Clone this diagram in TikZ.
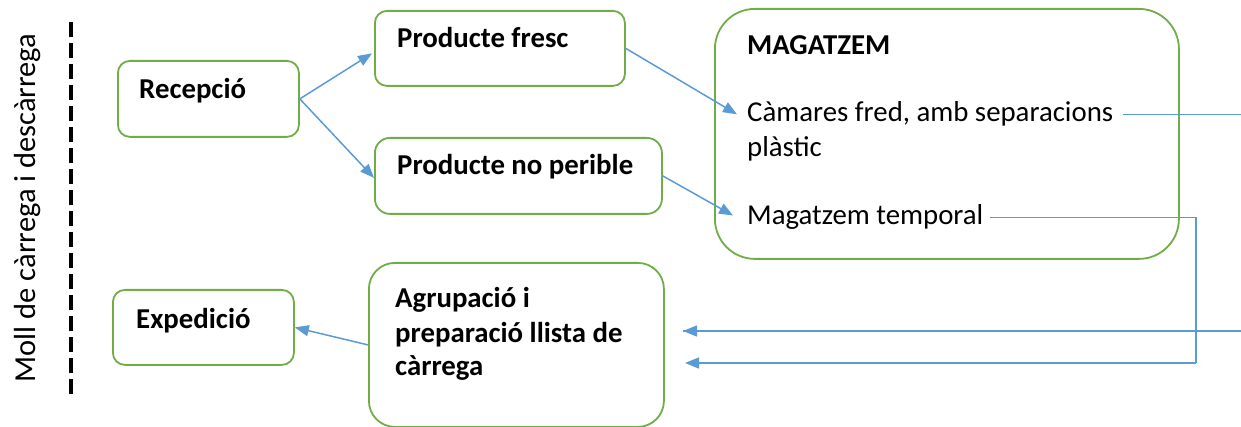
\documentclass[tikz,border=0pt]{standalone}
\usepackage{fontspec}
\setmainfont{Carlito}
\usetikzlibrary{arrows.meta,calc}
\definecolor{grn}{HTML}{70AD47}
\definecolor{blu}{HTML}{5B9BD5}
\begin{document}
\begin{tikzpicture}[x=1pt,y=-1pt,
  box/.style={draw=grn, line width=1.8pt, rounded corners=12pt, inner sep=0pt, anchor=north west},
  lbl/.style={inner sep=0pt, anchor=base west, font=\fontsize{28.8}{33}\selectfont\bfseries, align=left},
  txt/.style={inner sep=0pt, anchor=base west, font=\fontsize{28.8}{33}\selectfont},
  conn/.style={draw=blu, line width=1.5pt, -{Triangle[length=14pt,width=11pt]}},
  wire/.style={draw=blu, line width=1.5pt}]
\useasboundingbox (0,0) rectangle (1241,427);
\clip (0,0) rectangle (1241,427);

% loading dock
\draw[line width=3.5pt, dash pattern=on 15pt off 6pt] (71,22) -- (71,395);
\node[rotate=90, inner sep=0pt, font=\fontsize{30.5}{33}\selectfont] (moll) at (28,208) {Moll de càrrega i descàrrega};

% boxes
\node[box, minimum width=181pt, minimum height=76pt] (rec) at (117,60) {};
\node[box, minimum width=250pt, minimum height=75pt] (pf) at (374,10) {};
\node[box, minimum width=287pt, minimum height=76pt, rounded corners=15pt] (pnp) at (374,137) {};
\node[box, minimum width=464pt, minimum height=250pt, rounded corners=40pt] (mag) at (714,8) {};
\node[box, minimum width=181pt, minimum height=75pt] (exp) at (112,289) {};
\node[box, minimum width=295pt, minimum height=164pt, rounded corners=26pt] (agr) at (368,262) {};

% texts
\node[lbl] (trec) at (139,99) {Recepció};
\node[lbl] (tpf) at (397,48) {Producte fresc};
\node[lbl] (tpnp) at (397,175) {Producte no perible};
\node[lbl] (tmag) at (747,55) {MAGATZEM};
\node[txt] (cam1) at (747,122) {Càmares fred, amb separacions};
\node[txt] (cam2) at (747,157) {plàstic};
\node[txt] (mt) at (747,225) {Magatzem temporal};
\node[lbl] (texp) at (136,328) {Expedició};
\node[lbl] (agr1) at (395,308) {Agrupació i};
\node[lbl] (agr2) at (395,342) {preparació llista de};
\node[lbl] (agr3) at (395,375) {càrrega};

% connectors
\draw[conn] (rec.east) -- ($(pf.west)+(-2,5)$);
\draw[conn] (rec.east) -- ($(pnp.west)+(0,2)$);
\draw[conn] (pf.east) -- ($(cam1.west)+(-10,0)$);
\draw[conn] (pnp.east) -- ($(mt.west)+(-14,-2)$);
\draw[conn] (agr.west) -- (exp.east);

\coordinate (in1) at (683,331);
\coordinate (in2) at (685,363);
\coordinate (turn) at (1196,363);
\draw[wire] ($(cam1.east)+(10,0)$) -- ++(160,0) |- (in1);
\draw[conn] (1300,331) -- (in1);
\draw[wire] ($(mt.east)+(7,0)$) -| (turn);
\draw[conn] (turn) -- (in2);
\end{tikzpicture}
\end{document}
